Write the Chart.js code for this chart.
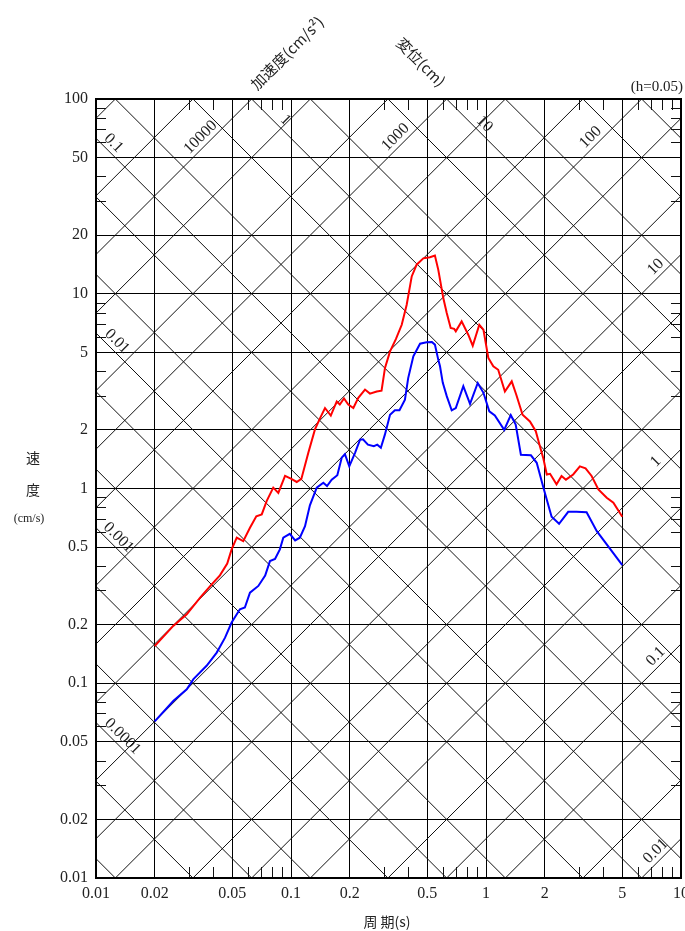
<!DOCTYPE html>
<html>
<head>
<meta charset="utf-8">
<title>速度応答スペクトル</title>
<script src="https://cdn.jsdelivr.net/npm/chart.js@4.4.0/dist/chart.umd.min.js"></script>
<style>
  body { margin: 0; background: #fff; }
  canvas { display: block; }
</style>
</head>
<body>
<canvas id="myChart" width="685" height="931"></canvas>
<script>
// tick labels on the period (x) and velocity (y) axes
const xTicks = [0.01, 0.02, 0.05, 0.1, 0.2, 0.5, 1, 2, 5, 10];
const yTicks = [0.01, 0.02, 0.05, 0.1, 0.2, 0.5, 1, 2, 5, 10, 20, 50, 100];

// red spectrum: period (s) / velocity (cm/s)
const redPeriod = [0.020, 0.0249, 0.0292, 0.0342, 0.0392, 0.0432, 0.0471, 0.0496, 0.0527, 0.0569,
  0.0616, 0.0664, 0.0708, 0.0750, 0.0811, 0.0861, 0.0932, 0.1004, 0.107, 0.113,
  0.1227, 0.1327, 0.141, 0.1494, 0.160, 0.1716, 0.178, 0.187, 0.1967, 0.2088,
  0.2214, 0.2396, 0.254, 0.2752, 0.2913, 0.3034, 0.322, 0.345, 0.3697, 0.392,
  0.416, 0.441, 0.477, 0.516, 0.547, 0.569, 0.604, 0.629, 0.659, 0.687,
  0.70, 0.750, 0.811, 0.855, 0.924, 0.97, 1.028, 1.09, 1.155, 1.25,
  1.355, 1.43, 1.54, 1.68, 1.80, 1.89, 1.97, 2.05, 2.13, 2.30,
  2.44, 2.57, 2.80, 3.03, 3.24, 3.48, 3.77, 4.16, 4.5, 5.0];
const redVel = [0.155, 0.197, 0.226, 0.275, 0.322, 0.358, 0.412, 0.487, 0.559, 0.537,
  0.629, 0.72, 0.736, 0.861, 1.01, 0.95, 1.16, 1.12, 1.08, 1.12,
  1.525, 2.01, 2.30, 2.59, 2.37, 2.80, 2.70, 2.90, 2.70, 2.59,
  2.92, 3.22, 3.07, 3.15, 3.18, 4.16, 5.06, 5.85, 6.93, 8.78,
  12.27, 14.1, 15.2, 15.4, 15.7, 13.3, 9.5, 7.96, 6.67, 6.6,
  6.41, 7.21, 6.16, 5.41, 6.93, 6.54, 4.68, 4.24, 4.07, 3.15,
  3.55, 3.03, 2.39, 2.21, 1.97, 1.65, 1.42, 1.18, 1.19, 1.05,
  1.16, 1.11, 1.18, 1.30, 1.27, 1.16, 0.99, 0.896, 0.845, 0.716];

// blue spectrum: period (s) / velocity (cm/s)
const bluePeriod = [0.020, 0.0249, 0.0292, 0.0316, 0.0369, 0.0416, 0.0459, 0.0496, 0.0547, 0.058,
  0.0616, 0.068, 0.0737, 0.078, 0.0828, 0.0877, 0.0913, 0.0986, 0.105, 0.111,
  0.118, 0.125, 0.1355, 0.1465, 0.153, 0.1617, 0.1728, 0.182, 0.189, 0.199,
  0.213, 0.226, 0.234, 0.248, 0.266, 0.277, 0.289, 0.303, 0.322, 0.341,
  0.36, 0.384, 0.399, 0.424, 0.459, 0.496, 0.528, 0.547, 0.569, 0.581,
  0.60, 0.629, 0.667, 0.70, 0.765, 0.828, 0.907, 0.97, 1.04, 1.11,
  1.24, 1.34, 1.42, 1.51, 1.70, 1.82, 1.98, 2.17, 2.37, 2.64,
  2.91, 3.28, 3.70, 5.0];
const blueVel = [0.0637, 0.0811, 0.0931, 0.105, 0.123, 0.1437, 0.1715, 0.205, 0.24, 0.245,
  0.292, 0.316, 0.357, 0.424, 0.435, 0.487, 0.559, 0.585, 0.541, 0.559,
  0.641, 0.82, 1.01, 1.07, 1.03, 1.11, 1.17, 1.44, 1.50, 1.30,
  1.525, 1.78, 1.79, 1.68, 1.65, 1.68, 1.62, 1.89, 2.39, 2.52,
  2.52, 2.86, 3.69, 4.77, 5.54, 5.63, 5.65, 5.48, 4.59, 4.24,
  3.5, 2.98, 2.52, 2.59, 3.35, 2.72, 3.48, 3.10, 2.49, 2.37,
  2.0, 2.38, 2.13, 1.49, 1.48, 1.355, 0.99, 0.716, 0.659, 0.759,
  0.76, 0.755, 0.604, 0.404];

// labelled diagonal lines
const accelLabels = [10000, 1000, 100, 10, 1, 0.1, 0.01];
const dispLabels = [0.1, 1, 10, 0.01, 0.001, 0.0001];

const TWO_PI = 2 * Math.PI;

function toPoints(xs, ys) {
  return xs.map((x, i) => ({ x: x, y: ys[i] }));
}

function diagText(ctx, text, x, y, angle) {
  ctx.save();
  ctx.translate(x, y);
  ctx.rotate(angle);
  ctx.textAlign = 'center';
  ctx.textBaseline = 'bottom';
  ctx.fillText(text, 0, -1);
  ctx.restore();
}

// tripartite grid: constant acceleration / displacement lines, minor ticks, labels
const tripartite = {
  id: 'tripartite',
  beforeDatasetsDraw(chart) {
    const ctx = chart.ctx, a = chart.chartArea;
    const px = v => chart.scales.x.getPixelForValue(v);
    const py = v => chart.scales.y.getPixelForValue(v);
    ctx.save();
    ctx.beginPath();
    ctx.rect(a.left, a.top, a.right - a.left, a.bottom - a.top);
    ctx.clip();
    ctx.strokeStyle = '#111';
    ctx.lineWidth = 1;
    for (let n = -6; n <= 6; n++) {
      for (const m of [1, 2, 5]) {
        const v = m * Math.pow(10, n);
        // acceleration v: Sv = A T / 2pi
        ctx.beginPath();
        ctx.moveTo(px(0.01), py(v * 0.01 / TWO_PI));
        ctx.lineTo(px(10), py(v * 10 / TWO_PI));
        ctx.stroke();
        // displacement v: Sv = 2pi D / T
        ctx.beginPath();
        ctx.moveTo(px(0.01), py(TWO_PI * v / 0.01));
        ctx.lineTo(px(10), py(TWO_PI * v / 10));
        ctx.stroke();
      }
    }
    // minor ticks inside the frame
    for (let n = -2; n <= 1; n++) {
      for (const k of [3, 4, 6, 7, 8, 9]) {
        const v = k * Math.pow(10, n);
        if (n <= 0) {
          const x = Math.round(px(v)) + 0.5;
          ctx.beginPath();
          ctx.moveTo(x, a.bottom); ctx.lineTo(x, a.bottom - 11);
          ctx.moveTo(x, a.top); ctx.lineTo(x, a.top + 11);
          ctx.stroke();
        }
        const y = Math.round(py(v)) + 0.5;
        ctx.beginPath();
        ctx.moveTo(a.left, y); ctx.lineTo(a.left + 10, y);
        ctx.moveTo(a.right, y); ctx.lineTo(a.right - 10, y);
        ctx.stroke();
      }
    }
    ctx.restore();

    ctx.save();
    ctx.fillStyle = '#222';
    ctx.font = '16px "Liberation Serif", serif';
    accelLabels.forEach(A => {
      let t, sv;
      if (A >= 100) { sv = 59; t = TWO_PI * sv / A; }
      else { t = 8; sv = A * t / TWO_PI; }
      diagText(ctx, String(A), px(t), py(sv), -Math.PI / 4);
    });
    const dispAt = { 0.1: 0.0114, 1: 0.087, 10: 0.91, 0.01: 0.0119, 0.001: 0.0121, 0.0001: 0.0127 };
    dispLabels.forEach(D => {
      const t = dispAt[D];
      diagText(ctx, String(D), px(t), py(TWO_PI * D / t), Math.PI / 4);
    });
    ctx.restore();
  },
  afterDraw(chart) {
    const ctx = chart.ctx, a = chart.chartArea;
    ctx.save();
    ctx.strokeStyle = '#000';
    ctx.lineWidth = 2;
    ctx.strokeRect(a.left, a.top, a.right - a.left, a.bottom - a.top);

    ctx.fillStyle = '#222';
    ctx.textAlign = 'center';
    ctx.textBaseline = 'middle';
    ctx.font = '15px "Noto Sans CJK JP", sans-serif';
    ctx.save();
    ctx.translate(287, 53);
    ctx.rotate(-Math.PI / 4);
    ctx.fillText('加速度(cm/s²)', 0, 0);
    ctx.restore();
    ctx.save();
    ctx.translate(421, 62);
    ctx.rotate(Math.PI / 4);
    ctx.fillText('変位(cm)', 0, 0);
    ctx.restore();

    ctx.font = '14px "Noto Sans CJK JP", sans-serif';
    ctx.fillText('速', 33, 458);
    ctx.fillText('度', 33, 490);
    ctx.fillText('周 期(s)', 387, 922);
    ctx.font = '12px "Liberation Serif", serif';
    ctx.fillText('(cm/s)', 29, 519);

    ctx.textAlign = 'right';
    ctx.font = '15px "Liberation Serif", serif';
    ctx.fillText('(h=0.05)', 683, 87);
    ctx.restore();
  }
};

Chart.defaults.font.family = '"Liberation Serif", serif';

const ctx = document.getElementById('myChart').getContext('2d');
const chart = new Chart(ctx, {
  type: 'line',
  data: {
    datasets: [{
      data: toPoints(redPeriod, redVel),
      borderColor: '#ff0000',
      borderWidth: 2,
      pointRadius: 0,
      tension: 0,
      fill: false
    }, {
      data: toPoints(bluePeriod, blueVel),
      borderColor: '#0000ff',
      borderWidth: 2,
      pointRadius: 0,
      tension: 0,
      fill: false
    }]
  },
  options: {
    responsive: false,
    animation: false,
    devicePixelRatio: 1,
    layout: { padding: { top: 99, right: 4, left: 0, bottom: 0 } },
    plugins: { legend: { display: false }, tooltip: { enabled: false } },
    scales: {
      x: {
        type: 'logarithmic',
        min: 0.01,
        max: 10,
        afterBuildTicks: s => { s.ticks = xTicks.map(v => ({ value: v })); },
        afterFit: s => { s.height = 53; s.paddingLeft = 0; s.paddingRight = 0; },
        grid: { color: '#000', lineWidth: 1, drawTicks: false },
        border: { color: '#000', width: 2 },
        ticks: {
          color: '#222',
          padding: 6,
          maxRotation: 0,
          autoSkip: false,
          font: { size: 16 },
          callback: v => String(v)
        }
      },
      y: {
        type: 'logarithmic',
        min: 0.01,
        max: 100,
        afterBuildTicks: s => { s.ticks = yTicks.map(v => ({ value: v })); },
        afterFit: s => { s.width = 96; s.paddingTop = 0; s.paddingBottom = 0; },
        grid: { color: '#000', lineWidth: 1, drawTicks: false },
        border: { color: '#000', width: 2 },
        ticks: {
          color: '#222',
          padding: 8,
          autoSkip: false,
          font: { size: 16 },
          callback: v => String(v)
        }
      }
    }
  },
  plugins: [tripartite]
});
</script>
</body>
</html>
